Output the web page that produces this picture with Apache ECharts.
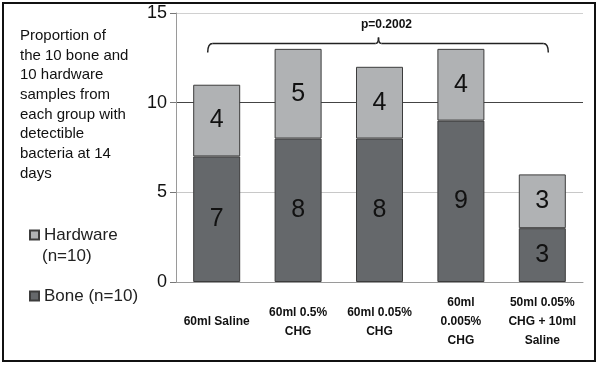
<!DOCTYPE html>
<html><head><meta charset="utf-8">
<script src="https://cdn.jsdelivr.net/npm/echarts@6/dist/echarts.min.js"></script>
<style>html,body{margin:0;padding:0;background:#fff}#c{width:600px;height:367px}</style>
</head><body><div id="c"></div>
<script>
const categories = ['60ml Saline', '60ml 0.5%\nCHG', '60ml 0.05%\nCHG', '60ml\n0.005%\nCHG', '50ml 0.05%\nCHG + 10ml\nSaline'];
const bone = [7, 8, 8, 9, 3];
const hardware = [4, 5, 4, 4, 3];
const yTicks = [0, 5, 10, 15];
const titleText = 'Proportion of\nthe 10 bone and\n10 hardware\nsamples from\neach group with\ndetectible\nbacteria at 14\ndays';
const pText = 'p=0.2002';
const bracketValue = 13.35;

const chart = echarts.init(document.getElementById('c'));
const FONT = 'Liberation Sans, Arial, sans-serif';
const lbl = {show: true, position: 'inside', color: '#111', fontSize: 25, fontFamily: FONT};
chart.setOption({
  animation: false,
  grid: {left: 176, right: 17, top: 13, bottom: 85},
  legend: [
    {data: ['Hardware'], left: 29, top: 225, orient: 'vertical', padding: 0, itemWidth: 9, itemHeight: 9, icon: 'rect',
     textStyle: {fontSize: 17, color: '#222', fontFamily: FONT, lineHeight: 20}},
    {data: ['Bone (n=10)'], left: 29, top: 286, orient: 'vertical', padding: 0, itemWidth: 9, itemHeight: 9, icon: 'rect',
     textStyle: {fontSize: 17, color: '#222', fontFamily: FONT, lineHeight: 20}}
  ],
  xAxis: {type: 'category', data: categories,
    axisLine: {lineStyle: {color: '#9a9a9a', width: 1}}, axisTick: {show: false},
    axisLabel: {fontSize: 12, fontWeight: 'bold', color: '#111', fontFamily: FONT, lineHeight: 19, verticalAlign: 'middle', margin: 40, interval: 0}},
  yAxis: {type: 'value', min: 0, max: 15, interval: 5,
    axisLine: {show: true, lineStyle: {color: '#9a9a9a'}},
    axisTick: {show: true, length: 6, lineStyle: {color: '#777'}},
    axisLabel: {fontSize: 18, color: '#111', fontFamily: FONT, margin: 9, formatter: v => yTicks.includes(v) ? String(v) : ''},
    splitLine: {lineStyle: {color: ['#cfcfcf', '#c8c8c8', '#444', '#d0d0d0'], width: 1}}},
  series: [
    {name: 'Bone (n=10)', type: 'bar', stack: 'a', data: bone, barWidth: 47,
     itemStyle: {color: '#65686b', borderColor: '#3c3c3c', borderWidth: 1}, label: lbl},
    {name: 'Hardware', type: 'bar', stack: 'a', data: hardware, barWidth: 47,
     itemStyle: {color: '#b0b2b4', borderColor: '#3c3c3c', borderWidth: 1}, label: lbl}
  ]
});

const pL = chart.convertToPixel({xAxisIndex: 0, yAxisIndex: 0}, [0, bracketValue]);
const pR = chart.convertToPixel({xAxisIndex: 0, yAxisIndex: 0}, [4, bracketValue]);
const x1 = pL[0] - 9, x2 = pR[0] + 6, y = Math.round(pL[1]) + 0.5;
const xm = (pL[0] + pR[0]) / 2 - 1;
const bs = {fill: 'none', stroke: '#222', lineWidth: 1.5};
chart.setOption({
  graphic: [
    {type: 'rect', shape: {x: 3, y: 3, width: 592, height: 358}, style: {fill: 'none', stroke: '#111', lineWidth: 2}, silent: true},
    {type: 'text', x: 20, y: 26, style: {text: titleText, fontSize: 15, lineHeight: 19.7, fill: '#111', fontFamily: FONT}},
    {type: 'text', x: 42, y: 248, style: {text: '(n=10)', fill: '#222', fontSize: 17, fontFamily: FONT}},
    {type: 'bezierCurve', shape: {x1: x1, y1: y + 9, cpx1: x1, cpy1: y, x2: x1 + 5, y2: y}, style: bs},
    {type: 'line', shape: {x1: x1 + 5, y1: y, x2: xm - 3, y2: y}, style: bs},
    {type: 'bezierCurve', shape: {x1: xm - 3, y1: y, cpx1: xm, cpy1: y, x2: xm, y2: y - 6}, style: bs},
    {type: 'bezierCurve', shape: {x1: xm, y1: y - 6, cpx1: xm, cpy1: y, x2: xm + 3, y2: y}, style: bs},
    {type: 'line', shape: {x1: xm + 3, y1: y, x2: x2 - 5, y2: y}, style: bs},
    {type: 'bezierCurve', shape: {x1: x2 - 5, y1: y, cpx1: x2, cpy1: y, x2: x2, y2: y + 9}, style: bs},
    {type: 'text', x: xm + 8, y: 25, style: {text: pText, align: 'center', verticalAlign: 'middle', fill: '#111', fontSize: 12, fontWeight: 'bold', fontFamily: FONT}}
  ]
});
</script></body></html>
